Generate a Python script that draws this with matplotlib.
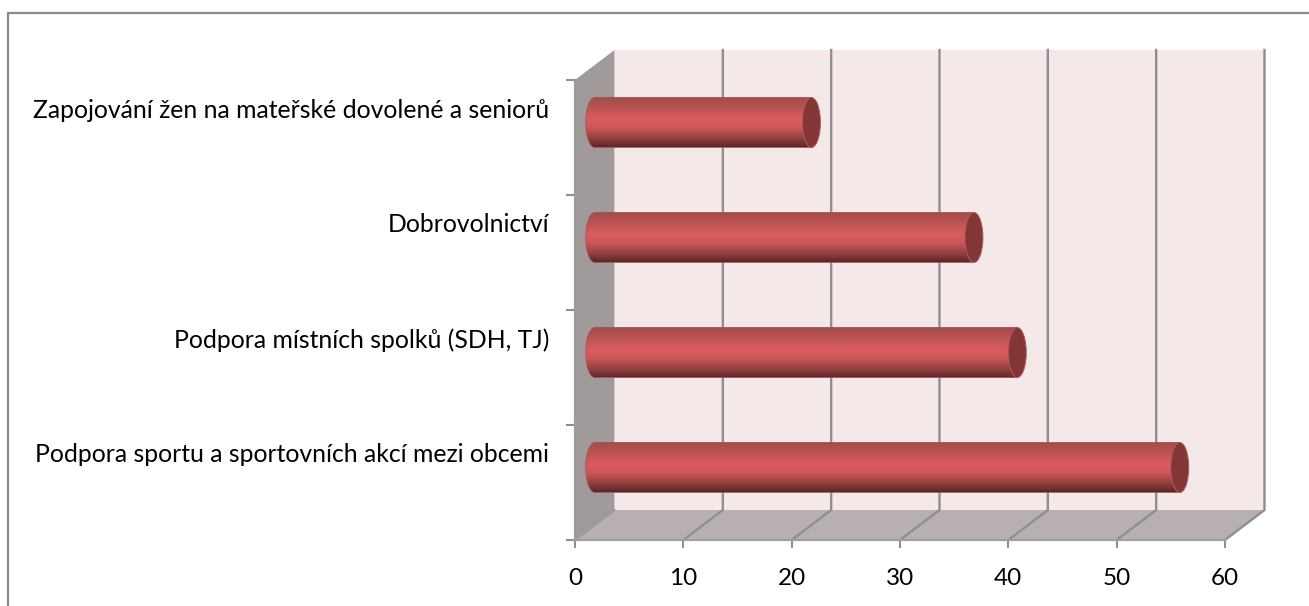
import numpy as np
import matplotlib
matplotlib.use("Agg")
import matplotlib.pyplot as plt
from matplotlib.colors import LinearSegmentedColormap
from matplotlib.patches import Ellipse, PathPatch, Polygon
from matplotlib.path import Path

# bottom to top, same order as the axis
categories = [
    "Podpora sportu a sportovních akcí mezi obcemi",
    "Podpora místních spolků (SDH, TJ)",
    "Dobrovolnictví",
    "Zapojování žen na mateřské dovolené a seniorů",
]
values = [54, 39, 35, 20]
x_ticks = [0, 10, 20, 30, 40, 50, 60]

W, H = 1309, 606
LEFT, RIGHT, TOP, BOTTOM = 575, 1225, 80, 540  # front plane, pixels
DX = 39.5 * 60 / (RIGHT - LEFT)    # depth of the box in x units
DY = 30 * 4 / (BOTTOM - TOP)       # and in category units
GRAY = "#8f8f8f"

plt.rcParams["font.family"] = ["Lato", "DejaVu Sans"]
fig = plt.figure(figsize=(W / 100, H / 100), dpi=100)
ax = fig.add_axes([LEFT / W, 1 - BOTTOM / H, (RIGHT - LEFT) / W, (BOTTOM - TOP) / H])
ax.set_xlim(0, 60)
ax.set_ylim(0, 4)
ax.patch.set_visible(False)
for s in ax.spines.values():
    s.set_visible(False)

# chart frame, only left and top show up in the crop
fig.add_artist(plt.Line2D([8 / W, 8 / W, 1], [0, 1 - 13 / H, 1 - 13 / H],
                          color="#8a8a8a", lw=1.6))

# box walls
ax.add_patch(Polygon([(DX, DY), (60 + DX, DY), (60 + DX, 4 + DY), (DX, 4 + DY)], fc="#f4e8e8", ec="none", clip_on=False, zorder=1))
ax.add_patch(Polygon([(0, 0), (DX, DY), (DX, 4 + DY), (0, 4)], fc="#a09a9a", ec="none", clip_on=False, zorder=1))
ax.add_patch(Polygon([(0, 0), (60, 0), (60 + DX, DY), (DX, DY)], fc="#b8b0b0", ec="none", clip_on=False, zorder=1))

# gridlines run over the back wall and along the floor
for t in x_ticks[1:]:
    ax.plot([t, t + DX, t + DX], [0, DY, 4 + DY], color=GRAY, lw=1.7, clip_on=False, zorder=2,
            solid_joinstyle="miter")
ax.plot([0, 0, DX], [4, 0, DY], color="#9c9c9c", lw=1.6, clip_on=False, zorder=2)
ax.plot([0, 60], [0, 0], color="#a0a0a0", lw=1.6, clip_on=False, zorder=2)

# ticks
ax.set_xticks(x_ticks)
ax.set_yticks(range(5))
ax.set_yticklabels([])
ax.tick_params(axis="x", length=6, width=1.5, color=GRAY, labelsize=17.5, labelcolor="black", pad=14.5)
ax.tick_params(axis="y", length=6.5, width=1.5, color=GRAY)

# cylinders
cyl = LinearSegmentedColormap.from_list("cyl", [
    (0.0, "#a04c4c"), (0.08, "#ab4e4e"), (0.45, "#da5d5d"), (0.62, "#cc5656"),
    (0.85, "#8a3d3d"), (1.0, "#5a2626")])
grad = np.linspace(0, 1, 256)[:, None]
bar_h = 50 / 115
rx = 9 * 60 / (RIGHT - LEFT)
for i, v in enumerate(values):
    x0 = DX / 2
    x1 = DX / 2 + v
    yc = i + 0.5 + DY / 2
    y0, y1 = yc - bar_h / 2, yc + bar_h / 2
    k = 0.5523
    verts = [(x0, y1), (x1, y1), (x1, y0), (x0, y0),
             (x0 - k * rx, y0), (x0 - rx, yc - k * bar_h / 2), (x0 - rx, yc),
             (x0 - rx, yc + k * bar_h / 2), (x0 - k * rx, y1), (x0, y1)]
    codes = [Path.MOVETO, Path.LINETO, Path.LINETO, Path.LINETO,
             Path.CURVE4, Path.CURVE4, Path.CURVE4, Path.CURVE4, Path.CURVE4, Path.CURVE4]
    body = PathPatch(Path(verts, codes), fc="none", ec="#a85050", lw=0.6, clip_on=False, zorder=4)
    ax.add_patch(body)
    im = ax.imshow(grad, cmap=cyl, extent=[x0 - rx, x1, y0, y1], origin="upper", aspect="auto", zorder=3)
    im.set_clip_path(body)
    ax.add_patch(Ellipse((x1, yc), 2 * rx, bar_h, fc="#843636", ec="#b05a5a", lw=0.7, clip_on=False, zorder=5))
    ax.annotate(categories[i], xy=(0, i + 0.5), xytext=(-26, 27.5), textcoords="offset pixels",
                ha="right", va="center", fontsize=17.8, color="black", annotation_clip=False)
ax.set_xlim(0, 60)
ax.set_ylim(0, 4)

fig.savefig("out.png", dpi=100)
